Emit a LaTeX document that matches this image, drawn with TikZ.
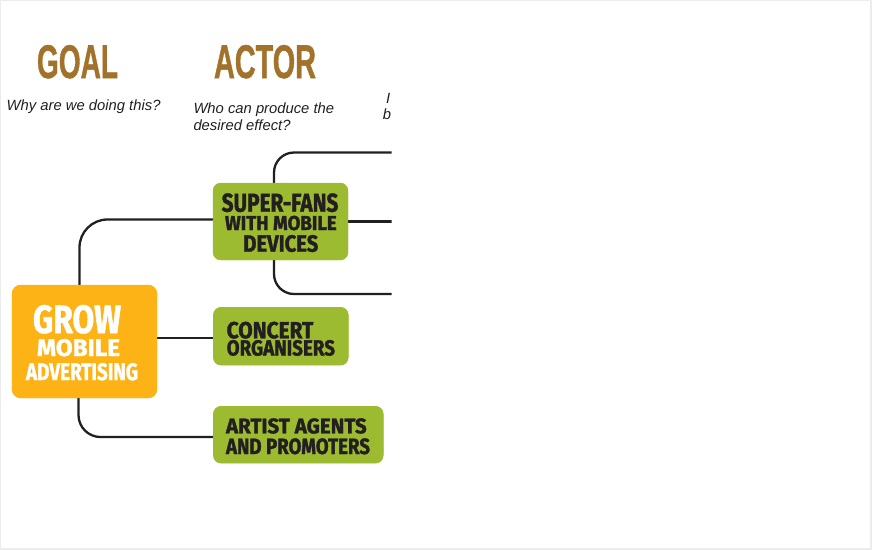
\documentclass[tikz,border=0pt]{standalone}
\usepackage{fontspec}
\usepackage{graphicx}
\newfontfamily\headfont{Liberation Sans}[BoldFeatures={FakeBold=1.2}]
\newfontfamily\boxfont{Fira Sans}[BoldFeatures={FakeBold=1.6}]
\newfontfamily\itfont{Liberation Sans}
\definecolor{brownhead}{HTML}{A2722B}
\definecolor{goalorange}{HTML}{FDB316}
\definecolor{actorgreen}{HTML}{9DBB31}
\definecolor{ink}{HTML}{231F20}
\definecolor{frame}{HTML}{ECECEC}
\tikzset{
  conn/.style={draw=ink, line width=2.3pt, line cap=round, line join=round},
  goalbox/.style={fill=goalorange, rounded corners=9pt, inner sep=0pt},
  actorbox/.style={fill=actorgreen, rounded corners=8pt, inner sep=0pt},
  lbl/.style={anchor=base west, inner sep=0pt, outer sep=0pt},
  question/.style={anchor=base west, inner sep=0pt, font=\itfont\itshape\fontsize{14.8}{16}\selectfont, text=ink},
}
\newcommand{\hd}[3]{\resizebox{#1pt}{#2pt}{\headfont\bfseries #3}}
\newcommand{\bx}[3]{\resizebox{#1pt}{#2pt}{\boxfont\bfseries #3}}
\begin{document}
\begin{tikzpicture}[x=1pt, y=-1pt]
\useasboundingbox (0,0) rectangle (872,550);
\fill[frame] (0,0) rectangle (872,550);
\fill[white] (1,1) rectangle (870,548);

\begin{scope}
\clip (0,0) rectangle (391.5,550);

% headings
\node[lbl, text=brownhead] (goalhd) at (37,78) {\hd{81}{33}{GOAL}};
\node[lbl, text=brownhead] (actorhd) at (214,78) {\hd{102}{33}{ACTOR}};

% questions
\node[question] (q1) at (6.5,110.5) {Why are we doing this?};
\node[question] (q2a) at (193.3,113.3) {Who can produce the};
\node[question] (q2b) at (193.3,130) {desired effect?};
\node[question] (q3a) at (386,103) {I};
\node[question] (q3b) at (382.7,119.3) {b};

% boxes (shapes)
\node[goalbox, minimum width=145pt, minimum height=113pt] (grow) at (84.5,341.5) {};
\node[actorbox, minimum width=135pt, minimum height=77pt] (fans) at (280.5,221.5) {};
\node[actorbox, minimum width=135pt, minimum height=58pt] (concert) at (280.8,336.2) {};
\node[actorbox, minimum width=170pt, minimum height=57pt] (artist) at (298.3,434.7) {};

% free ends
\coordinate (e1) at (396,152.5);
\coordinate (e2) at (396,221.5);
\coordinate (e3) at (396,294);

% connectors
\draw[conn, rounded corners=28pt] ([xshift=-5pt]grow.north) |- ([yshift=2pt]fans.west);
\draw[conn] ([yshift=-2pt]concert.west -| grow.east) -- ([yshift=-2pt]concert.west);
\draw[conn, rounded corners=22pt] ([xshift=-6pt]grow.south) |- ([yshift=-2.3pt]artist.west);
\draw[conn, rounded corners=20pt] ([xshift=-6.5pt]fans.north) |- (e1);
\draw[conn] (fans.east) -- (e2);
\draw[conn, rounded corners=20pt] ([xshift=-6.5pt]fans.south) |- (e3);

% redraw boxes over connector ends
\fill[goalorange, rounded corners=9pt] (grow.south west) rectangle (grow.north east);
\fill[actorgreen, rounded corners=8pt] (fans.south west) rectangle (fans.north east);
\fill[actorgreen, rounded corners=8pt] (concert.south west) rectangle (concert.north east);
\fill[actorgreen, rounded corners=8pt] (artist.south west) rectangle (artist.north east);

% box labels
\node[lbl, text=white] (g1) at (33,333) {\bx{88}{28}{GROW}};
\node[lbl, text=white] (g2) at (37,356) {\bx{83}{17}{MOBILE}};
\node[lbl, text=white] (g3) at (26,380) {\bx{112}{17}{ADVERTISING}};

\node[lbl, text=ink] (f1) at (221.7,211.7) {\bx{116.6}{18.4}{SUPER-FANS}};
\node[lbl, text=ink] (f2) at (225,230) {\bx{111.7}{14.3}{WITH MOBILE}};
\node[lbl, text=ink] (f3) at (243.3,251.7) {\bx{75}{16.7}{DEVICES}};

\node[lbl, text=ink] (c1) at (226.7,338.3) {\bx{86.6}{16.6}{CONCERT}};
\node[lbl, text=ink] (c2) at (226.7,355.5) {\bx{108.3}{15.5}{ORGANISERS}};

\node[lbl, text=ink] (a1) at (226,433.3) {\bx{140.7}{15}{ARTIST AGENTS}};
\node[lbl, text=ink] (a2) at (226,454) {\bx{144}{15.7}{AND PROMOTERS}};
\end{scope}
\end{tikzpicture}
\end{document}
